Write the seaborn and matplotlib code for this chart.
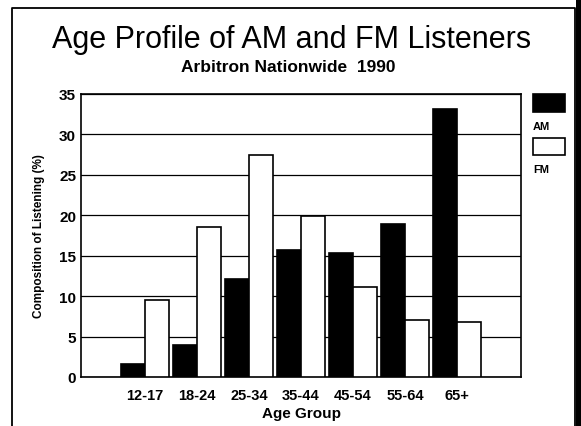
import numpy as np
import pandas as pd
import matplotlib
matplotlib.use("Agg")
import matplotlib.pyplot as plt
from matplotlib.patches import Rectangle
from matplotlib.lines import Line2D
import seaborn as sns

# dados
age_groups = ["12-17", "18-24", "25-34", "35-44", "45-54", "55-64", "65+"]
am_values = [1.6, 3.9, 12.1, 15.7, 15.3, 18.9, 33.2]
fm_values = [9.5, 18.5, 27.4, 19.9, 11.1, 7.0, 6.8]
y_ticks = [0, 5, 10, 15, 20, 25, 30, 35]

df = pd.DataFrame({
    "Age Group": age_groups * 2,
    "Share": am_values + fm_values,
    "Band": ["AM"] * len(age_groups) + ["FM"] * len(age_groups),
})

sns.set_style("white")
plt.rcParams["font.family"] = ["Liberation Sans", "DejaVu Sans"]
for k in ["text.color", "axes.labelcolor", "xtick.color", "ytick.color"]:
    plt.rcParams[k] = "black"

W, H = 581, 427
fig = plt.figure(figsize=(W / 100, H / 100), dpi=100)
ax = fig.add_axes([81 / W, 1 - 378 / H, 440 / W, 283 / H])

sns.barplot(data=df, x="Age Group", y="Share", hue="Band", order=age_groups,
            palette={"AM": "black", "FM": "white"}, edgecolor="black",
            linewidth=1.2, width=0.92, saturation=1, legend=False, ax=ax, zorder=3)

ax.set_xlim(-1.23, 7.23)
ax.set_ylim(0, 35)
ax.set_yticks(y_ticks)
ax.set_yticklabels([str(v) for v in y_ticks], fontsize=11, fontweight="bold")
ax.yaxis.grid(True, color="black", linewidth=0.9, zorder=0)
ax.set_axisbelow(True)

# ticks do eixo x nas fronteiras dos grupos
ax.set_xticks(np.arange(len(age_groups)))
ax.set_xticklabels(age_groups, fontsize=10.5, fontweight="bold")
ax.set_xticks(np.arange(len(age_groups) + 1) - 0.5, minor=True)
ax.tick_params(axis="x", which="major", length=0, pad=8)
ax.tick_params(axis="x", which="minor", length=4, width=1, color="black", direction="out")
ax.tick_params(axis="y", length=5, width=1, color="black", direction="inout", pad=1)

for s in ax.spines.values():
    s.set_color("black")
    s.set_linewidth(1.2)

ax.set_xlabel("Age Group", fontsize=11, fontweight="bold", labelpad=3)
ax.set_ylabel("Composition of Listening (%)", fontsize=8.5, fontweight="bold", labelpad=10)

fig.text(292 / W, 1 - 48 / H, "Age Profile of AM and FM Listeners",
         ha="center", va="baseline", fontsize=22)
fig.text(288 / W, 1 - 72 / H, "Arbitron Nationwide  1990",
         ha="center", va="baseline", fontsize=12.5, fontweight="bold")

# legenda manual
fig.patches.append(Rectangle((533 / W, 1 - 113 / H), 32 / W, 18 / H, transform=fig.transFigure,
                             facecolor="black", edgecolor="black", linewidth=1.2))
fig.text(533 / W, 1 - 127 / H, "AM", fontsize=8, fontweight="bold", va="center")
fig.patches.append(Rectangle((533 / W, 1 - 156 / H), 32 / W, 17 / H, transform=fig.transFigure,
                             facecolor="white", edgecolor="black", linewidth=1.2))
fig.text(533 / W, 1 - 170 / H, "FM", fontsize=8, fontweight="bold", va="center")

# moldura da figura
fig.lines.append(Line2D([12 / W, 12 / W, 575 / W, 575 / W], [0, 1 - 9 / H, 1 - 9 / H, 0],
                        transform=fig.transFigure, color="black", linewidth=1.3))
fig.patches.append(Rectangle((576 / W, 0), 5 / W, 1, transform=fig.transFigure,
                             facecolor="black", edgecolor="none"))

fig.savefig("out.png", dpi=100)
